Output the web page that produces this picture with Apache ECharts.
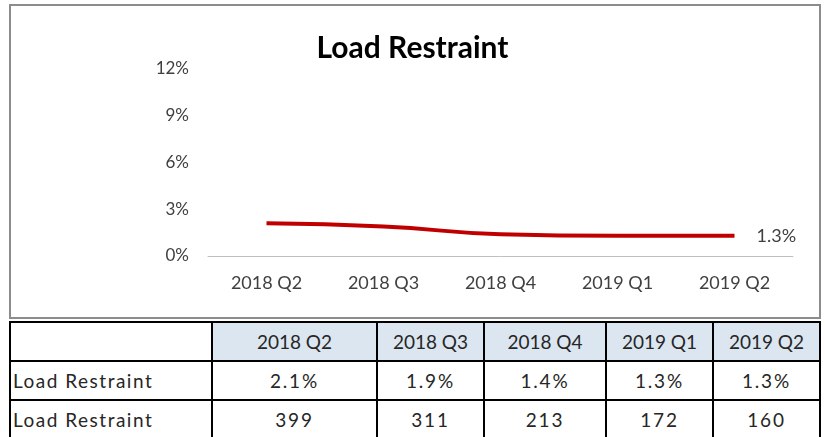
<!DOCTYPE html>
<html>
	<head>
		<meta charset="UTF-8" />
		<script src="https://cdn.jsdelivr.net/npm/echarts@6/dist/echarts.min.js"></script>
		<title>Load Restraint</title>
		<style>
			body {
				margin: 0;
				background-color: #fff;
				font-family: Lato, 'Open Sans', sans-serif;
			}
			#frame {
				position: absolute;
				left: 9px;
				top: 4px;
				width: 808px;
				height: 311px;
				border: 2px solid #8c8c8c;
			}
			#chart {
				position: absolute;
				left: 0;
				top: 0;
				width: 825px;
				height: 320px;
			}
			#tbl {
				position: absolute;
				left: 9px;
				top: 321px;
				border-collapse: collapse;
				table-layout: fixed;
				font-size: 19px;
				color: #262626;
			}
			#tbl td {
				border: 2px solid #000;
				height: 37px;
				padding: 0;
				text-align: center;
			}
			#tbl td.name {
				text-align: left;
				padding-left: 2px;
				letter-spacing: 1.5px;
			}
			#tbl td.num {
				letter-spacing: 1.8px;
			}
			#tbl tr.head td {
				background-color: #dce6f1;
			}
			#tbl tr.head td.name {
				background-color: #fff;
			}
		</style>
	</head>

	<body>
		<div id="frame"></div>
		<div id="chart"></div>
		<table id="tbl"></table>
	</body>
</html>

<script>
	var quarters = ['2018 Q2', '2018 Q3', '2018 Q4', '2019 Q1', '2019 Q2']
	var ratePct = [2.1, 1.9, 1.4, 1.3, 1.3]
	var counts = [399, 311, 213, 172, 160]
	var seriesName = 'Load Restraint'
	var colWidths = [202, 165, 107, 122, 107, 107]

	var myChart = echarts.init(document.getElementById('chart'))

	var option = {
		animation: false,
		title: {
			text: seriesName,
			left: 'center',
			top: 28,
			textStyle: {
				fontFamily: 'Lato',
				fontWeight: 'bold',
				fontSize: 30,
				color: '#000',
			},
		},
		grid: {
			left: 208,
			right: 32,
			top: 69,
			bottom: 64,
		},
		xAxis: {
			type: 'category',
			data: quarters,
			boundaryGap: true,
			axisLine: { lineStyle: { color: '#bfbfbf', width: 1 } },
			axisTick: { show: false },
			axisLabel: {
				color: '#404040',
				fontFamily: 'Lato',
				fontSize: 18,
				margin: 18,
			},
		},
		yAxis: {
			type: 'value',
			min: 0,
			max: 12,
			interval: 3,
			axisLine: { show: false },
			axisTick: { show: false },
			splitLine: { show: false },
			axisLabel: {
				formatter: '{value}%',
				color: '#404040',
				fontFamily: 'Lato',
				fontSize: 17,
				margin: 19,
			},
		},
		series: [
			{
				name: seriesName,
				type: 'line',
				data: ratePct,
				smooth: true,
				showSymbol: false,
				lineStyle: { color: '#c00000', width: 4 },
				itemStyle: { color: '#c00000' },
				endLabel: {
					show: true,
					formatter: function (p) {
						return p.value + '%'
					},
					distance: 22,
					color: '#404040',
					fontFamily: 'Lato',
					fontSize: 18,
				},
			},
		],
	}
	myChart.setOption(option)

	// 表格
	var tbl = document.getElementById('tbl')
	var html = '<colgroup>'
	colWidths.forEach(function (w) {
		html += '<col style="width:' + w + 'px">'
	})
	html += '</colgroup>'
	html += '<tr class="head"><td class="name"></td>'
	quarters.forEach(function (q) {
		html += '<td>' + q + '</td>'
	})
	html += '</tr><tr><td class="name">' + seriesName + '</td>'
	ratePct.forEach(function (v) {
		html += '<td class="num">' + v.toFixed(1) + '%</td>'
	})
	html += '</tr><tr><td class="name">' + seriesName + '</td>'
	counts.forEach(function (v) {
		html += '<td class="num">' + v + '</td>'
	})
	html += '</tr>'
	tbl.innerHTML = html
</script>
